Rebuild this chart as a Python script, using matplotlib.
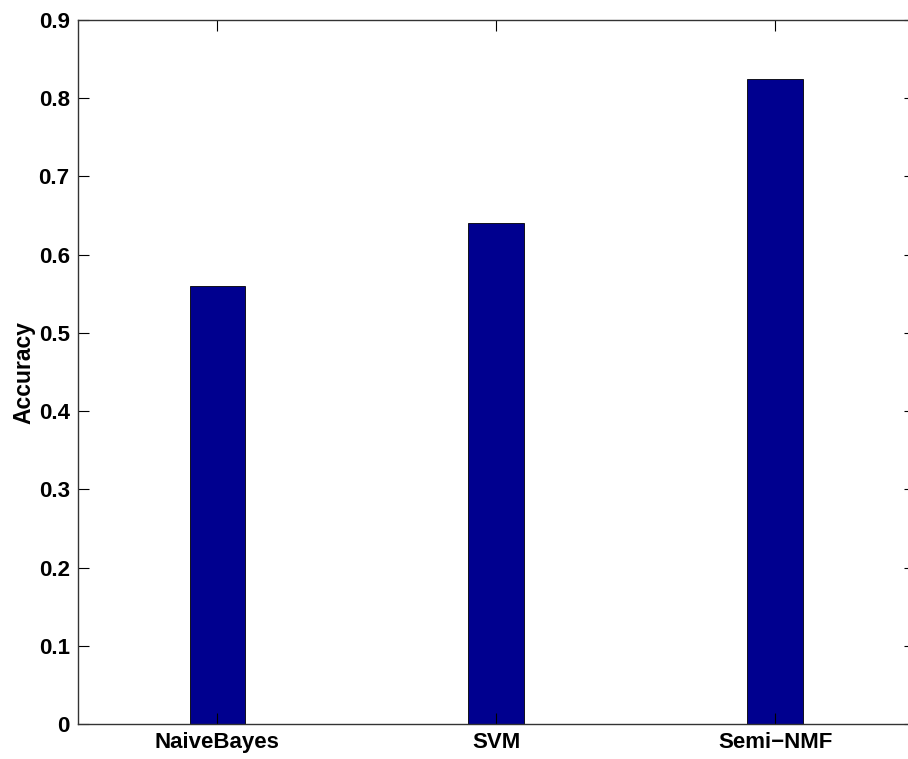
import numpy as np
import matplotlib.pyplot as plt

methods = ['NaiveBayes', 'SVM', 'Semi\u2212NMF']
accuracy = [0.56, 0.64, 0.825]

plt.rcParams['font.family'] = ['Liberation Sans', 'DejaVu Sans']
plt.rcParams['font.weight'] = 'bold'

fig = plt.figure(figsize=(9.08, 7.59), dpi=100)
ax = fig.add_axes([0.0859, 0.0461, 0.9213, 0.9275])

x = np.arange(1, len(methods) + 1)
ax.bar(x, accuracy, width=0.2, color='#00008f', edgecolor='black', linewidth=0.6)

ax.set_xlim(0.5, 3.5)
ax.set_ylim(0, 0.9)
ax.set_xticks(x)
ax.set_xticklabels(methods)
ax.set_yticks(np.arange(0, 0.91, 0.1))
ax.set_yticklabels(['0'] + ['%.1f' % v for v in np.arange(0.1, 0.91, 0.1)])
ax.tick_params(direction='in', top=True, right=True, length=8, width=0.8,
               labelsize=16, pad=6)
for s in ax.spines.values():
    s.set_linewidth(1.0)
    s.set_color('#333333')
ax.set_ylabel('Accuracy', fontsize=16.5, fontweight='bold', labelpad=2)

fig.savefig('out.png', dpi=100)
